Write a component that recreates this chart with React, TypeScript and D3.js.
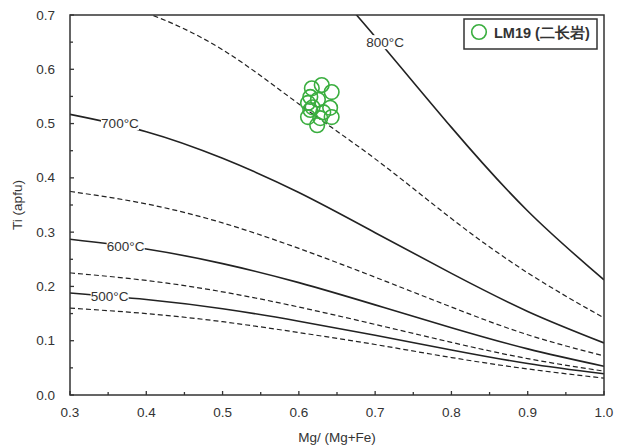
import React from "react";
import * as d3 from "d3";

// ---- data ----
const xGrid = [0.3, 0.4, 0.5, 0.6, 0.7, 0.8, 0.9, 1.0];
const iso450 = [0.160, 0.150, 0.135, 0.115, 0.093, 0.069, 0.048, 0.031];
const iso500 = [0.188, 0.176, 0.159, 0.136, 0.110, 0.083, 0.058, 0.039];
const iso550 = [0.225, 0.211, 0.190, 0.162, 0.130, 0.097, 0.067, 0.044];
const iso600 = [0.287, 0.269, 0.242, 0.207, 0.166, 0.124, 0.085, 0.053];
const iso650 = [0.375, 0.352, 0.317, 0.270, 0.217, 0.162, 0.111, 0.072];
const iso700 = [0.517, 0.485, 0.436, 0.373, 0.299, 0.224, 0.154, 0.096];
const iso750 = [0.750, 0.704, 0.636, 0.536, 0.435, 0.325, 0.225, 0.142];
const iso800 = [null, null, null, 0.822, 0.660, 0.493, 0.339, 0.212];

const isotherms = [
  { name: "450", values: iso450, dashed: true },
  { name: "500", values: iso500, dashed: false },
  { name: "550", values: iso550, dashed: true },
  { name: "600", values: iso600, dashed: false },
  { name: "650", values: iso650, dashed: true },
  { name: "700", values: iso700, dashed: false },
  { name: "750", values: iso750, dashed: true },
  { name: "800", values: iso800, dashed: false },
];

const tempLabels = ["500°C", "600°C", "700°C", "800°C"];
const labelX = [0.352, 0.373, 0.3655, 0.713];
const labelY = [0.182, 0.273, 0.501, 0.650];

const sampleMgNum = [0.630, 0.643, 0.617, 0.615, 0.612, 0.625, 0.641, 0.615, 0.632, 0.612, 0.643, 0.624, 0.628, 0.618];
const sampleTi = [0.571, 0.558, 0.565, 0.549, 0.538, 0.544, 0.529, 0.525, 0.521, 0.512, 0.512, 0.497, 0.510, 0.530];

const xTicks = [0.3, 0.4, 0.5, 0.6, 0.7, 0.8, 0.9, 1.0];
const yTicks = [0.0, 0.1, 0.2, 0.3, 0.4, 0.5, 0.6, 0.7];
const legendLabel = "LM19 (二长岩)";
const xTitle = "Mg/ (Mg+Fe)";
const yTitle = "Ti (apfu)";

const W = 617, H = 448;
const m = { left: 70, right: 13, top: 15, bottom: 53 };
const green = "#3aae3f";
const ink = "#222";
const font = "Liberation Sans, Arial, sans-serif";

export default function App() {
  const x = d3.scaleLinear().domain([0.3, 1.0]).range([m.left, W - m.right]);
  const y = d3.scaleLinear().domain([0, 0.7]).range([H - m.bottom, m.top]);
  const line = d3
    .line<[number, number]>()
    .x((d) => x(d[0]))
    .y((d) => y(d[1]))
    .curve(d3.curveNatural);

  const minorX = d3.range(0.35, 1.0, 0.1);
  const minorY = d3.range(0.05, 0.7, 0.1);
  const pw = x(1) - x(0.3);
  const ph = y(0) - y(0.7);

  return (
    <svg width={W} height={H} style={{ position: "absolute", left: 0, top: 0, background: "#fff" }} fontFamily={font}>
      <defs>
        <clipPath id="plot">
          <rect x={x(0.3)} y={y(0.7)} width={pw} height={ph} />
        </clipPath>
      </defs>
      <g clipPath="url(#plot)">
        {isotherms.map((iso) => {
          const pts = xGrid
            .map((xv, i) => [xv, iso.values[i]] as [number, number | null])
            .filter((p) => p[1] !== null) as [number, number][];
          return (
            <path
              key={iso.name}
              d={line(pts) || ""}
              fill="none"
              stroke={ink}
              strokeWidth={iso.dashed ? 1.2 : 1.6}
              strokeDasharray={iso.dashed ? "5,3" : undefined}
            />
          );
        })}
      </g>
      {tempLabels.map((t, i) => (
        <g key={t}>
          <rect x={x(labelX[i]) - 19} y={y(labelY[i]) - 7} width={38} height={14} fill="#fff" />
          <text
            x={x(labelX[i])}
            y={y(labelY[i])}
            textAnchor="middle"
            dominantBaseline="central"
            fontSize={13.5}
            fill="#333"
          >
            {t}
          </text>
        </g>
      ))}
      {sampleMgNum.map((v, i) => (
        <circle key={i} cx={x(v)} cy={y(sampleTi[i])} r={7.3} fill="none" stroke={green} strokeWidth={1.6} />
      ))}
      {/* frame */}
      <rect x={x(0.3)} y={y(0.7)} width={pw} height={ph} fill="none" stroke="#333" strokeWidth={1.5} />
      {/* ticks */}
      {xTicks.map((t) => (
        <line key={"xt" + t} x1={x(t)} x2={x(t)} y1={y(0)} y2={y(0) - 4} stroke="#333" strokeWidth={1.3} />
      ))}
      {minorX.map((t) => (
        <line key={"xm" + t} x1={x(t)} x2={x(t)} y1={y(0)} y2={y(0) - 3} stroke="#333" strokeWidth={1.3} />
      ))}
      {yTicks.map((t) => (
        <line key={"yt" + t} x1={x(0.3)} x2={x(0.3) + 4} y1={y(t)} y2={y(t)} stroke="#333" strokeWidth={1.3} />
      ))}
      {minorY.map((t) => (
        <line key={"ym" + t} x1={x(0.3)} x2={x(0.3) + 3} y1={y(t)} y2={y(t)} stroke="#333" strokeWidth={1.3} />
      ))}
      {xTicks.map((t) => (
        <text key={"xl" + t} x={x(t)} y={y(0) + 22} textAnchor="middle" fontSize={13.5} fill="#333">
          {t.toFixed(1)}
        </text>
      ))}
      {yTicks.map((t) => (
        <text key={"yl" + t} x={x(0.3) - 15} y={y(t)} textAnchor="end" dominantBaseline="central" fontSize={13.5} fill="#333">
          {t.toFixed(1)}
        </text>
      ))}
      <text x={(x(0.3) + x(1)) / 2} y={H - 6} textAnchor="middle" fontSize={13.5} fill="#333">
        {xTitle}
      </text>
      <text
        transform={`translate(${22},${(y(0) + y(0.7)) / 2}) rotate(-90)`}
        textAnchor="middle"
        fontSize={13.5}
        fill="#333"
      >
        {yTitle}
      </text>
      {/* legend */}
      <g>
        <rect x={464} y={19} width={133} height={30} fill="#fff" stroke="#333" strokeWidth={1.5} />
        <circle cx={479} cy={32} r={7.3} fill="none" stroke={green} strokeWidth={1.6} />
        <text x={494} y={33} dominantBaseline="central" fontSize={14.5} fill="#333" fontWeight={600}>
          {legendLabel}
        </text>
      </g>
    </svg>
  );
}
